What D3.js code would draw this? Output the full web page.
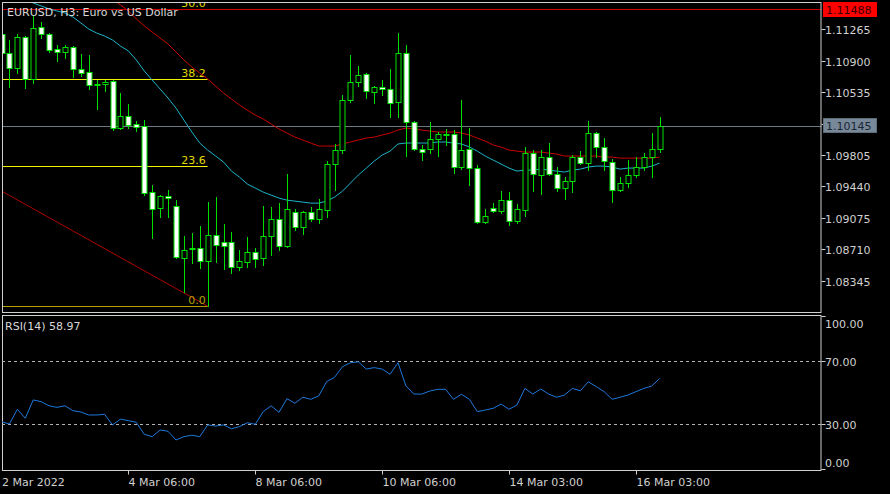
<!DOCTYPE html>
<html><head><meta charset="utf-8">
<script src="https://cdn.jsdelivr.net/npm/d3@7"></script>
<style>html,body{margin:0;padding:0;background:#000;}svg{display:block;font-family:"DejaVu Sans",sans-serif;}</style>
</head><body>
<script>
const open = [1.11211,1.10990,1.10816,1.11176,1.10687,1.11292,1.11211,1.11036,1.11002,1.11060,
1.10804,1.10769,1.10630,1.10630,1.10664,1.10118,1.10257,1.10165,1.10141,1.09374,
1.09188,1.09327,1.09211,1.08607,1.08711,1.08723,1.08572,1.08874,1.08793,1.08793,
1.08503,1.08561,1.08677,1.08607,1.08862,1.09060,1.08746,1.09142,1.08968,1.09142,
1.09060,1.09165,1.09700,1.09862,1.10444,1.10653,1.10746,1.10537,1.10595,1.10571,
1.10421,1.10990,1.10188,1.09874,1.09874,1.09990,1.10049,1.10049,1.09665,1.09874,
1.09653,1.09026,1.09188,1.09153,1.09281,1.09037,1.09165,1.09827,1.09572,1.09781,
1.09584,1.09421,1.09502,1.09781,1.09711,1.10060,1.09898,1.09723,1.09397,1.09479,
1.09572,1.09665,1.09781,1.09874];
const high = [1.11222,1.11141,1.11211,1.11187,1.11432,1.11350,1.11222,1.11083,1.11083,1.11071,
1.10979,1.10967,1.10676,1.10676,1.10676,1.10525,1.10398,1.10199,1.10211,1.09456,
1.09339,1.09397,1.09281,1.08862,1.08897,1.08979,1.09258,1.09316,1.09003,1.08909,
1.08700,1.08851,1.08723,1.09211,1.09200,1.09246,1.09584,1.09176,1.09153,1.09200,
1.09292,1.09734,1.09933,1.10502,1.10967,1.10839,1.10757,1.10606,1.10676,1.10804,
1.11222,1.11083,1.10199,1.09921,1.10188,1.10072,1.10106,1.10095,1.10444,1.10118,
1.09688,1.09176,1.09246,1.09385,1.09374,1.09235,1.09898,1.09862,1.09862,1.09944,
1.09665,1.09549,1.09804,1.09850,1.10199,1.10072,1.10002,1.09757,1.09549,1.09746,
1.09781,1.09827,1.10060,1.10246];
const low = [1.10967,1.10595,1.10757,1.10583,1.10641,1.11164,1.11002,1.10897,1.10932,1.10711,
1.10722,1.10571,1.10339,1.10548,1.10095,1.10106,1.10118,1.10083,1.09339,1.08839,
1.09084,1.09084,1.08607,1.08212,1.08549,1.08491,1.08049,1.08561,1.08479,1.08433,
1.08468,1.08503,1.08503,1.08526,1.08642,1.08700,1.08735,1.08932,1.08886,1.09037,
1.09014,1.09084,1.09397,1.09827,1.10421,1.10606,1.10467,1.10409,1.10502,1.10246,
1.10246,1.09792,1.09862,1.09746,1.09827,1.09792,1.09921,1.09595,1.09641,1.09456,
1.09014,1.09014,1.09142,1.09130,1.08991,1.09014,1.09095,1.09385,1.09351,1.09572,
1.09385,1.09292,1.09374,1.09700,1.09630,1.09781,1.09630,1.09258,1.09385,1.09433,
1.09549,1.09630,1.09549,1.09839];
const close = [1.10990,1.10816,1.11176,1.10687,1.11280,1.11211,1.11025,1.11002,1.11060,1.10804,
1.10757,1.10618,1.10618,1.10653,1.10118,1.10257,1.10153,1.10130,1.09362,1.09176,
1.09327,1.09304,1.08619,1.08700,1.08723,1.08572,1.08874,1.08758,1.08746,1.08503,
1.08572,1.08677,1.08595,1.08862,1.09060,1.08746,1.09176,1.08968,1.09142,1.09060,
1.09176,1.09700,1.09862,1.10444,1.10653,1.10734,1.10548,1.10595,1.10571,1.10409,
1.10990,1.10188,1.09874,1.09839,1.09990,1.10049,1.10037,1.09665,1.09862,1.09653,
1.09026,1.09095,1.09153,1.09281,1.09037,1.09176,1.09827,1.09584,1.09781,1.09584,
1.09421,1.09502,1.09781,1.09711,1.10060,1.09898,1.09734,1.09397,1.09479,1.09572,
1.09665,1.09781,1.09874,1.10145];
const maFast = [null,null,null,1.11606,1.11571,1.11536,1.11501,1.11478,1.11455,1.11408,
1.11339,1.11268,1.11222,1.11187,1.11141,1.11071,1.11013,1.10909,1.10781,1.10676,
1.10571,1.10467,1.10350,1.10211,1.10072,1.09944,1.09862,1.09793,1.09723,1.09618,
1.09549,1.09467,1.09421,1.09374,1.09339,1.09304,1.09281,1.09269,1.09258,1.09246,
1.09246,1.09269,1.09316,1.09385,1.09479,1.09572,1.09653,1.09734,1.09804,1.09850,
1.09933,1.09944,1.09944,1.09944,1.09944,1.09956,1.09956,1.09944,1.09933,1.09898,
1.09850,1.09793,1.09746,1.09700,1.09653,1.09618,1.09630,1.09630,1.09641,1.09630,
1.09618,1.09607,1.09630,1.09641,1.09665,1.09676,1.09676,1.09665,1.09641,1.09653,
1.09653,1.09653,1.09676,1.09711];
const maSlow = [null,null,null,null,null,null,null,null,null,null,
null,null,null,null,1.11618,1.11548,1.11478,1.11385,1.11304,1.11234,
1.11164,1.11094,1.11002,1.10909,1.10827,1.10757,1.10688,1.10606,1.10525,1.10455,
1.10386,1.10327,1.10269,1.10223,1.10165,1.10106,1.10060,1.10013,1.09979,1.09944,
1.09909,1.09909,1.09909,1.09933,1.09956,1.09979,1.10002,1.10013,1.10037,1.10060,
1.10095,1.10118,1.10106,1.10095,1.10083,1.10072,1.10072,1.10072,1.10060,1.10037,
1.10002,1.09967,1.09921,1.09897,1.09862,1.09850,1.09839,1.09839,1.09839,1.09827,
1.09816,1.09793,1.09793,1.09793,1.09793,1.09793,1.09781,1.09781,1.09769,1.09769,
1.09769,1.09769,1.09769,1.09781];
const rsi = [31.6,30.2,39.5,33.8,45.4,44.3,41.7,40.7,41.7,38.6,
37.8,35.9,35.9,36.3,29.6,33.3,32.3,31.3,23.7,22.2,
26.4,25.6,20.1,22.2,23.1,22.2,29.6,28.9,29.6,27.2,
28.5,31.0,30.0,38.0,41.7,37.6,46.2,43.3,47.1,45.8,
47.9,56.9,59.7,66.4,68.9,69.5,64.9,65.8,64.9,61.6,
68.9,54.2,49.1,49.1,51.0,52.1,52.1,45.8,49.0,45.8,
38.0,39.0,40.1,42.8,39.5,42.2,52.7,49.1,52.3,49.1,
47.1,48.5,52.7,51.2,56.9,53.8,50.6,45.8,47.1,48.5,
50.6,52.7,54.2,58.97];
const priceTicks = [1.11265,1.10900,1.10535,1.10170,1.09805,1.09440,1.09075,1.08710,1.08345];
const rsiTicks = [100,70,30,0];
const rsiLevels = [70,30];
const timeTickIdx = [0,16,32,48,64,80];
const timeTickLabels = ["2 Mar 2022","4 Mar 06:00","8 Mar 06:00","10 Mar 06:00","14 Mar 03:00","16 Mar 03:00"];
const fibLevels = [0,23.6,38.2,50.0];
const fibLow = 1.08049, fibHigh = 1.14943, fibHighIdx = -108, fibLowIdx = 26;
const bidPrice = 1.10145, askLinePrice = 1.11488;
const title = "EURUSD, H3:  Euro vs US Dollar";
const rsiTitle = "RSI(14) 58.97";

const W = 890, H = 494;
const L = 2, R = 821.5, mT = 2, mB = 312.5, rT = 315, rB = 470.5;
const svg = d3.select("body").append("svg").attr("width", W).attr("height", H);
svg.append("rect").attr("width", W).attr("height", H).attr("fill", "#000");

const x = d3.scaleLinear().domain([0, 83]).range([1.5, 1.5 + 7.93 * 83]);
const y = d3.scaleLinear().domain([1.11265, 1.08345]).range([29.3, 280.7]);
const yr = d3.scaleLinear().domain([0, 100]).range([471.8, 313.5]);

const defs = svg.append("defs");
defs.append("clipPath").attr("id", "cm").append("rect").attr("x", L).attr("y", mT).attr("width", R - L).attr("height", mB - mT);
defs.append("clipPath").attr("id", "cr").append("rect").attr("x", L).attr("y", rT).attr("width", R - L).attr("height", rB - rT);

const main = svg.append("g").attr("clip-path", "url(#cm)");
const px = i => Math.round(x(i));

// Fibonacci
const fibColor = l => l === 0 ? "#b4a000" : "#f0f000";
const fibX2 = x(fibLowIdx);
main.append("line").attr("x1", x(fibHighIdx)).attr("y1", y(fibHigh)).attr("x2", fibX2).attr("y2", y(fibLow))
  .attr("stroke", "#b00000").attr("stroke-width", 1);
fibLevels.forEach(l => {
  const p = fibLow + (fibHigh - fibLow) * l / 100;
  const yy = Math.round(y(p)) + 0.5;
  main.append("line").attr("x1", L).attr("x2", fibX2).attr("y1", yy).attr("y2", yy).attr("stroke", fibColor(l)).attr("stroke-width", 1);
  main.append("text").attr("x", fibX2 - 2).attr("y", yy - 3).attr("text-anchor", "end").attr("font-size", 11)
    .attr("fill", l === 0 ? "#b4a000" : "#e0dc00").text(l.toFixed(1));
});

// ask & bid lines
main.append("line").attr("x1", L).attr("x2", R).attr("y1", Math.round(y(askLinePrice)) - 0.5).attr("y2", Math.round(y(askLinePrice)) - 0.5).attr("stroke", "#d00000");
main.append("line").attr("x1", L).attr("x2", R).attr("y1", Math.round(y(bidPrice)) + 0.5).attr("y2", Math.round(y(bidPrice)) + 0.5).attr("stroke", "#6e7882");

// MAs
const lineGen = d3.line().defined(d => d != null).x((d, i) => x(i)).y(d => y(d));
main.append("path").datum(maSlow).attr("d", lineGen).attr("fill", "none").attr("stroke", "#c80000").attr("stroke-width", 1);
main.append("path").datum(maFast).attr("d", lineGen).attr("fill", "none").attr("stroke", "#1eb4c8").attr("stroke-width", 1);

// candles
const green = "#00e000";
open.forEach((o, i) => {
  const c = close[i], cx = px(i) + 0.5;
  main.append("line").attr("x1", cx).attr("x2", cx).attr("y1", Math.round(y(high[i]))).attr("y2", Math.round(y(low[i])) + 1)
    .attr("stroke", green).attr("stroke-width", 1);
  const yt = Math.round(y(Math.max(o, c))), yb = Math.round(y(Math.min(o, c)));
  main.append("rect").attr("x", cx - 2.5).attr("y", yt + 0.5).attr("width", 5).attr("height", Math.max(0, yb - yt))
    .attr("fill", c < o ? "#ffffff" : "#000000").attr("stroke", green).attr("stroke-width", 1);
});

// title
svg.append("text").attr("x", 7).attr("y", 16).attr("font-size", 11).attr("fill", "#d8d8d8").text(title);

// frames
const frameC = "#d0d0d0";
svg.append("rect").attr("x", L + 0.5).attr("y", mT + 0.5).attr("width", R - L - 1).attr("height", mB - mT - 0.5).attr("fill", "none").attr("stroke", frameC);
svg.append("rect").attr("x", L + 0.5).attr("y", rT + 0.5).attr("width", R - L - 1).attr("height", rB - rT - 0.5).attr("fill", "none").attr("stroke", frameC);

// price axis
priceTicks.forEach(p => {
  const yy = Math.round(y(p)) + 0.5;
  svg.append("line").attr("x1", R).attr("x2", R + 4).attr("y1", yy).attr("y2", yy).attr("stroke", frameC);
  svg.append("text").attr("x", 825).attr("y", yy + 4).attr("font-size", 11).attr("fill", "#d0d0d0").text(p.toFixed(5));
});
function tag(p, bg, fg, border) {
  const yy = Math.round(y(p));
  svg.append("rect").attr("x", 823.5).attr("y", yy - 7.5).attr("width", 53).attr("height", 14).attr("fill", bg).attr("stroke", border);
  svg.append("text").attr("x", 826).attr("y", yy + 4).attr("font-size", 11).attr("fill", fg).text(p.toFixed(5));
}
tag(askLinePrice, "#ff0000", "#3a0000", "#ff0000");
tag(bidPrice, "#778899", "#1c2633", "#5e6b78");

// RSI panel
const rg = svg.append("g").attr("clip-path", "url(#cr)");
rsiLevels.forEach(l => {
  const yy = Math.round(yr(l)) + 0.5;
  rg.append("line").attr("x1", L).attr("x2", R).attr("y1", yy).attr("y2", yy).attr("stroke", "#b4b4b4").attr("stroke-dasharray", "3,3");
});
rg.append("path").datum(rsi).attr("d", d3.line().x((d, i) => x(i)).y(d => yr(d))).attr("fill", "none").attr("stroke", "#1e78dc").attr("stroke-width", 1);
svg.append("text").attr("x", 5).attr("y", 330).attr("font-size", 11).attr("fill", "#d8d8d8").text(rsiTitle);
rsiTicks.forEach(v => {
  let yy = Math.round(yr(v)) + 0.5;
  yy = Math.max(rT + 1.5, Math.min(rB - 1, yy));
  svg.append("line").attr("x1", R).attr("x2", R + 4).attr("y1", yy).attr("y2", yy).attr("stroke", frameC);
  let ty = v === 100 ? yy + 11 : v === 0 ? yy - 3 : yy + 4;
  svg.append("text").attr("x", 825).attr("y", ty).attr("font-size", 11).attr("fill", "#d0d0d0").text(v.toFixed(2));
});

// time axis
timeTickIdx.forEach((idx, k) => {
  const tx = k === 0 ? L : Math.round(x(idx)) + 0.5;
  if (k > 0) svg.append("line").attr("x1", tx).attr("x2", tx).attr("y1", rB).attr("y2", rB + 4).attr("stroke", frameC);
  svg.append("text").attr("x", k === 0 ? 2 : tx).attr("y", 486).attr("font-size", 11).attr("fill", "#d0d0d0").text(timeTickLabels[k]);
});
</script>
</body></html>
